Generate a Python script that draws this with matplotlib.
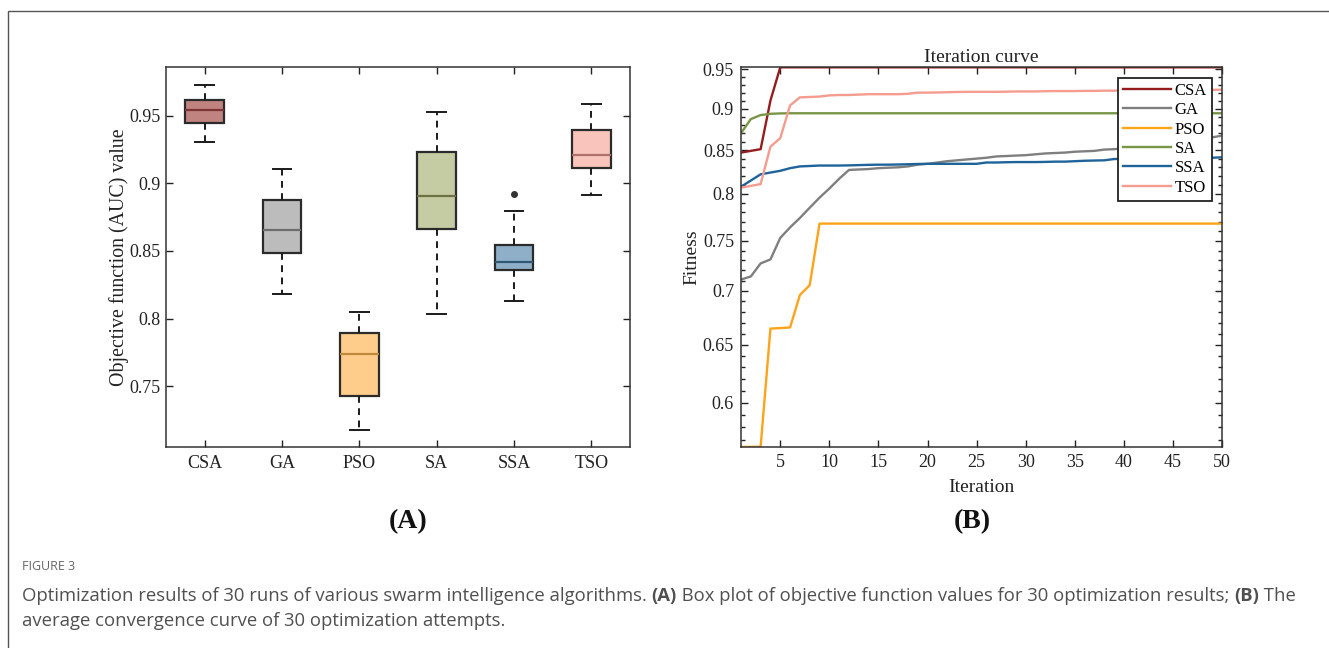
import numpy as np
import matplotlib
matplotlib.use("Agg")
import matplotlib.pyplot as plt
from matplotlib.ticker import FixedLocator, FixedFormatter, NullFormatter
from matplotlib.patches import Rectangle

# ---------------- data ----------------
algos = ['CSA', 'GA', 'PSO', 'SA', 'SSA', 'TSO']

box_whislo = [0.9308, 0.8181, 0.7178, 0.8034, 0.8130, 0.8912]
box_q1     = [0.9446, 0.8482, 0.7426, 0.8661, 0.8356, 0.9114]
box_med    = [0.9544, 0.8651, 0.7739, 0.8905, 0.8420, 0.9207]
box_q3     = [0.9616, 0.8878, 0.7894, 0.9234, 0.8541, 0.9392]
box_whishi = [0.9726, 0.9106, 0.8049, 0.9525, 0.8794, 0.9584]
box_fliers = [[], [], [], [], [0.8922], []]

iterations = list(range(1, 51))

csa = [0.847, 0.849, 0.851, 0.910, 0.9527, 0.9527, 0.9527, 0.9527, 0.9527, 0.9527,
       0.9527, 0.9527, 0.9527, 0.9527, 0.9527, 0.9527, 0.9527, 0.9527, 0.9527, 0.9527,
       0.9527, 0.9527, 0.9527, 0.9527, 0.9527, 0.9527, 0.9527, 0.9527, 0.9527, 0.9527,
       0.9527, 0.9527, 0.9527, 0.9527, 0.9527, 0.9527, 0.9527, 0.9527, 0.9527, 0.9527,
       0.9527, 0.9527, 0.9527, 0.9527, 0.9527, 0.9527, 0.9527, 0.9527, 0.9527, 0.9527]
ga = [0.711, 0.714, 0.727, 0.731, 0.753, 0.764, 0.774, 0.785, 0.796, 0.806,
      0.817, 0.827, 0.8275, 0.828, 0.829, 0.8295, 0.830, 0.831, 0.833, 0.834,
      0.8355, 0.837, 0.838, 0.839, 0.840, 0.841, 0.8425, 0.843, 0.8435, 0.844,
      0.845, 0.846, 0.8465, 0.847, 0.848, 0.8485, 0.849, 0.8505, 0.851, 0.852,
      0.853, 0.854, 0.855, 0.857, 0.858, 0.860, 0.861, 0.863, 0.865, 0.867]
pso = [0.5644, 0.5645, 0.5646, 0.6645, 0.665, 0.6655, 0.696, 0.7055, 0.768, 0.768,
       0.768, 0.768, 0.768, 0.768, 0.768, 0.768, 0.768, 0.768, 0.768, 0.768,
       0.768, 0.768, 0.768, 0.768, 0.768, 0.768, 0.768, 0.768, 0.768, 0.768,
       0.768, 0.768, 0.768, 0.768, 0.768, 0.768, 0.768, 0.768, 0.768, 0.768,
       0.768, 0.768, 0.768, 0.768, 0.768, 0.768, 0.768, 0.768, 0.768, 0.768]
sa = [0.870, 0.887, 0.892, 0.8935, 0.894, 0.8942, 0.8942, 0.8942, 0.8942, 0.8942,
      0.8942, 0.8942, 0.8942, 0.8942, 0.8942, 0.8942, 0.8942, 0.8942, 0.8942, 0.8942,
      0.8942, 0.8942, 0.8942, 0.8942, 0.8942, 0.8942, 0.8942, 0.8942, 0.8942, 0.8942,
      0.8942, 0.8942, 0.8942, 0.8942, 0.8942, 0.8942, 0.8942, 0.8942, 0.8942, 0.8942,
      0.8942, 0.8942, 0.8942, 0.8942, 0.8942, 0.8942, 0.8942, 0.8942, 0.8942, 0.8942]
ssa = [0.808, 0.815, 0.822, 0.824, 0.826, 0.829, 0.831, 0.8315, 0.832, 0.832,
       0.832, 0.8322, 0.8325, 0.8328, 0.833, 0.833, 0.8332, 0.8335, 0.8338, 0.834,
       0.834, 0.834, 0.834, 0.834, 0.834, 0.8355, 0.8355, 0.8358, 0.836, 0.836,
       0.836, 0.8362, 0.8365, 0.8365, 0.837, 0.8375, 0.8378, 0.838, 0.8395, 0.8398,
       0.840, 0.840, 0.8402, 0.8402, 0.8405, 0.8405, 0.8408, 0.841, 0.841, 0.8415]
tso = [0.807, 0.809, 0.811, 0.854, 0.864, 0.904, 0.914, 0.9145, 0.915, 0.9165,
       0.917, 0.917, 0.9175, 0.918, 0.918, 0.918, 0.918, 0.9185, 0.920, 0.920,
       0.9202, 0.9205, 0.9208, 0.921, 0.921, 0.921, 0.921, 0.9212, 0.9215, 0.9215,
       0.9215, 0.9218, 0.922, 0.922, 0.922, 0.9222, 0.9222, 0.9225, 0.9225, 0.9225,
       0.9228, 0.9228, 0.923, 0.923, 0.923, 0.9232, 0.9232, 0.9235, 0.9235, 0.9238]

a_yticks = [0.75, 0.8, 0.85, 0.9, 0.95]
a_yticklabels = ['0.75', '0.8', '0.85', '0.9', '0.95']
b_xticks = [5, 10, 15, 20, 25, 30, 35, 40, 45, 50]
b_yticks = [0.6, 0.65, 0.7, 0.75, 0.8, 0.85, 0.9, 0.95]
b_yticklabels = ['0.6', '0.65', '0.7', '0.75', '0.8', '0.85', '0.9', '0.95']
b_yminor = [0.57, 0.58, 0.59, 0.61, 0.62, 0.63, 0.64, 0.66, 0.67, 0.68, 0.69,
            0.71, 0.72, 0.73, 0.74, 0.76, 0.77, 0.78, 0.79, 0.81, 0.82, 0.83, 0.84,
            0.86, 0.87, 0.88, 0.89, 0.91, 0.92, 0.93, 0.94]

# ---------------- styles ----------------
box_fill = ['#c08380', '#bcbcbc', '#fecd8b', '#c5cba2', '#8eafc7', '#f8c4bb']
box_medc = ['#7d3432', '#6e6e6e', '#c08a3c', '#6b7145', '#2f5873', '#ad7168']
line_colors = ['#951c1c', '#7f7f7f', '#ffa31a', '#789646', '#1f639b', '#f59c8e']

SERIF = 'Liberation Serif'
W, H = 1329, 648
fig = plt.figure(figsize=(W / 100, H / 100), dpi=100)

def fx(px):
    return px / W

def fy(py):
    return 1 - py / H

# outer frame
fig.patches.append(Rectangle((fx(8), fy(660)), fx(1340) - fx(8), fy(11) - fy(660),
                             transform=fig.transFigure, fill=False,
                             edgecolor='#555555', linewidth=1.0))

# ---------------- panel A ----------------
axA = fig.add_axes([fx(166), fy(447), fx(630) - fx(166), fy(67) - fy(447)])
stats = []
for i, name in enumerate(algos):
    stats.append(dict(label=name, whislo=box_whislo[i], q1=box_q1[i], med=box_med[i],
                      q3=box_q3[i], whishi=box_whishi[i], fliers=box_fliers[i]))
bp = axA.bxp(stats, positions=range(1, len(algos) + 1), widths=0.5, capwidths=0.24,
             patch_artist=True, showfliers=True,
             boxprops=dict(edgecolor='#2b2b2b', linewidth=1.6),
             whiskerprops=dict(color='#1a1a1a', linewidth=1.4, linestyle=(0, (3.5, 2.8))),
             capprops=dict(color='#1a1a1a', linewidth=1.4),
             flierprops=dict(marker='o', markerfacecolor='#333333', markeredgecolor='#333333',
                             markersize=4))
for i, patch in enumerate(bp['boxes']):
    patch.set_facecolor(box_fill[i])
for i, med in enumerate(bp['medians']):
    med.set_color(box_medc[i])
    med.set_linewidth(1.6)
axA.set_xlim(0.5, 6.5)
axA.set_ylim(0.705, 0.986)
axA.yaxis.set_major_locator(FixedLocator(a_yticks))
axA.yaxis.set_major_formatter(FixedFormatter(a_yticklabels))
axA.set_xticks(range(1, len(algos) + 1))
axA.set_xticklabels(algos)
axA.tick_params(direction='in', top=True, right=True, length=5, width=1.0,
                labelsize=13, colors='#222222', pad=6)
axA.tick_params(axis='y', pad=4)
for lab in axA.get_xticklabels() + axA.get_yticklabels():
    lab.set_fontfamily(SERIF)
for s in axA.spines.values():
    s.set_linewidth(1.1)
    s.set_color('#333333')
axA.set_ylabel('Objective function (AUC) value', fontfamily=SERIF, fontsize=14.3,
               color='#222222', labelpad=0)

# ---------------- panel B ----------------
axB = fig.add_axes([fx(741), fy(447), fx(1222) - fx(741), fy(67.3) - fy(447)])
series = [csa, ga, pso, sa, ssa, tso]
for i, name in enumerate(algos):
    axB.plot(iterations, series[i], color=line_colors[i], linewidth=1.7, label=name)
axB.set_yscale('log')
allv = np.concatenate([np.asarray(s) for s in series])
axB.set_ylim(allv.min(), allv.max())
axB.set_xlim(iterations[0], iterations[-1])
axB.set_xticks(b_xticks)
axB.set_xticklabels([str(t) for t in b_xticks])
axB.yaxis.set_major_locator(FixedLocator(b_yticks))
axB.yaxis.set_major_formatter(FixedFormatter(b_yticklabels))
axB.yaxis.set_minor_locator(FixedLocator(b_yminor))
axB.yaxis.set_minor_formatter(NullFormatter())
axB.tick_params(which='major', direction='in', top=True, right=True, length=5, width=1.0,
                labelsize=13, colors='#222222', pad=5)
axB.tick_params(which='minor', direction='in', left=True, right=True, length=3, width=1.0,
                colors='#222222')
axB.tick_params(axis='x', which='minor', bottom=False, top=False)
for lab in axB.get_xticklabels() + axB.get_yticklabels():
    lab.set_fontfamily(SERIF)
for s in axB.spines.values():
    s.set_linewidth(1.1)
    s.set_color('#333333')
axB.set_xlabel('Iteration', fontfamily=SERIF, fontsize=14, color='#222222', labelpad=6)
axB.set_ylabel('Fitness', fontfamily=SERIF, fontsize=14, color='#222222', labelpad=1.5)
axB.set_title('Iteration curve', fontfamily=SERIF, fontsize=14, color='#222222', pad=4)
leg = axB.legend(loc='upper right', bbox_to_anchor=(0.979, 0.972), borderaxespad=0,
                 prop=dict(family=SERIF, size=12), handlelength=2.9, handletextpad=0.2,
                 labelspacing=0.2, borderpad=0.3, fancybox=False, framealpha=1)
leg.get_frame().set_edgecolor('#222222')
leg.get_frame().set_linewidth(1.3)

# panel labels
fig.text(fx(408), fy(522), '(A)', fontfamily=SERIF, fontweight='bold', fontsize=20,
         ha='center', va='center', color='#111111')
fig.text(fx(972), fy(522), '(B)', fontfamily=SERIF, fontweight='bold', fontsize=20,
         ha='center', va='center', color='#111111')

# caption
CAP = 'Open Sans'
capc = '#505050'
CAPSIZE = 13.3
fig.text(fx(22), fy(567), 'FIGURE 3', fontfamily=CAP, fontsize=9, color='#666666',
         ha='left', va='center')

fig.canvas.draw()
renderer = fig.canvas.get_renderer()

def place_line(x, y_base, pieces):
    cur_x = fx(x)
    for txt, bold in pieces:
        t = fig.text(cur_x, fy(y_base), txt, fontfamily=CAP, fontsize=CAPSIZE, color=capc,
                     fontweight='bold' if bold else 'normal', ha='left', va='baseline')
        bb = t.get_window_extent(renderer=renderer)
        cur_x += bb.width / W

place_line(22, 601, [('Optimization results of 30 runs of various swarm intelligence algorithms. ', False),
                     ('(A)', True),
                     (' Box plot of objective function values for 30 optimization results; ', False),
                     ('(B)', True),
                     (' The', False)])
place_line(22, 626, [('average convergence curve of 30 optimization attempts.', False)])

fig.savefig('out.png', dpi=100)
